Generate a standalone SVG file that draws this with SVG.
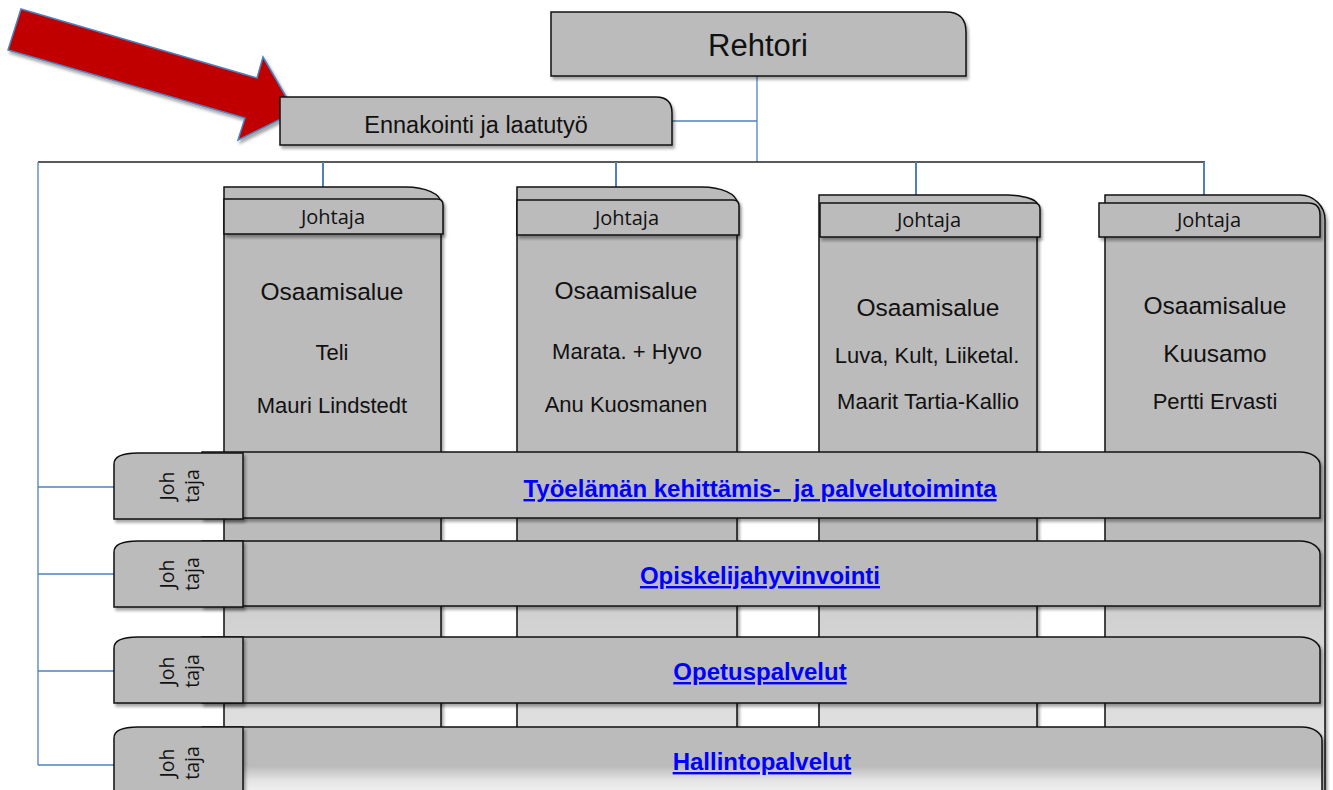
<svg xmlns="http://www.w3.org/2000/svg" width="1333" height="790" viewBox="0 0 1333 790">
<defs>
<filter id="sh" x="-5%" y="-5%" width="115%" height="130%">
<feDropShadow dx="2" dy="3" stdDeviation="1.5" flood-color="#000" flood-opacity="0.35"/>
</filter>
<linearGradient id="colg" gradientUnits="userSpaceOnUse" x1="0" y1="187" x2="0" y2="790">
<stop offset="0" stop-color="#bbbbbb"/>
<stop offset="0.58" stop-color="#bbbbbb"/>
<stop offset="0.7" stop-color="#d0d0d0"/>
<stop offset="0.85" stop-color="#dcdcdc"/>
<stop offset="1" stop-color="#e6e6e6"/>
</linearGradient>
<linearGradient id="bar4g" gradientUnits="userSpaceOnUse" x1="0" y1="727" x2="0" y2="790">
<stop offset="0" stop-color="#bbbbbb"/>
<stop offset="0.62" stop-color="#bbbbbb"/>
<stop offset="0.85" stop-color="#e4e4e4"/>
<stop offset="1" stop-color="#eeeeee"/>
</linearGradient>
</defs>
<style>
.box{fill:#bbbbbb;stroke:#111;stroke-width:1.5;filter:url(#sh)}
.col{fill:url(#colg);stroke:#111;stroke-width:1.5;filter:url(#sh)}
.conn{fill:none;stroke:#4f81bd;stroke-width:1.3}
.connT{fill:none;stroke:#4f81bd;stroke-width:2}
.ar{font-family:"Liberation Sans",Arial,sans-serif;fill:#111;text-anchor:middle}
.cal{font-family:"Open Sans","Noto Sans",sans-serif;fill:#111;text-anchor:middle}
.jt{font-family:"Open Sans","Noto Sans",sans-serif;fill:#111;text-anchor:middle;font-size:19.5px}
.lnk{font-family:"Liberation Sans",Arial,sans-serif;font-weight:bold;fill:#0000ff;text-anchor:middle;text-decoration:underline;font-size:24px}
</style>

<g id="connectors">
<path class="conn" d="M757,76 V162"/>
<path class="conn" d="M672,121 H757"/>
<path d="M38,162 H1205" fill="none" stroke="#222" stroke-width="1.3"/>
<path class="connT" d="M323,162 V187 M616,162 V187 M916,162 V195 M1204,162 V195"/>
<path class="conn" d="M38,162 V765 M38,487 H114 M38,574 H114 M38,671 H114 M38,765 H114"/>
</g>

<g id="arrow">
<polygon points="21,9 257,78 263,57 295,112 238,140 245,118 8,50" fill="#c00000" stroke="#4f81bd" stroke-width="1.5" filter="url(#sh)"/>
</g>

<g id="rehtori">
<path class="box" d="M551,76 V12 H946 Q966,12 966,32 V76 Z"/>
<text class="ar" x="758" y="56" font-size="31">Rehtori</text>
</g>

<g id="ennakointi">
<path class="box" d="M280,145 V97 H656 Q672,97 672,113 V145 Z"/>
<text class="ar" x="476" y="133" font-size="23.5">Ennakointi ja laatutyö</text>
</g>

<g id="col1">
<path class="col" d="M224,800 V187 H406 A35,16 0 0 1 441,203 V800"/>
<path class="box" d="M224,234 V199 H437 Q443,199 443,205 V234 Z"/>
<text class="cal" x="333" y="224" font-size="20">Johtaja</text>
<text class="ar" x="332" y="300" font-size="24.5">Osaamisalue</text>
<text class="ar" x="332" y="360" font-size="22">Teli</text>
<text class="ar" x="332" y="413" font-size="22">Mauri Lindstedt</text>
</g>

<g id="col2">
<path class="col" d="M517,800 V187 H702 A35,16 0 0 1 737,203 V800"/>
<path class="box" d="M517,235 V200 H733 Q739,200 739,206 V235 Z"/>
<text class="cal" x="627" y="225" font-size="20">Johtaja</text>
<text class="ar" x="626" y="299" font-size="24.5">Osaamisalue</text>
<text class="ar" x="627" y="359" font-size="22">Marata. + Hyvo</text>
<text class="ar" x="626" y="412" font-size="22">Anu Kuosmanen</text>
</g>

<g id="col3">
<path class="col" d="M819,800 V195 H1008 A32,10 0 0 1 1037,203 V800"/>
<path class="box" d="M820,237 V203 H1034 Q1040,203 1040,209 V237 Z"/>
<text class="cal" x="929" y="227" font-size="20">Johtaja</text>
<text class="ar" x="928" y="316" font-size="24.5">Osaamisalue</text>
<text class="ar" x="927" y="363" font-size="22">Luva, Kult, Liiketal.</text>
<text class="ar" x="928" y="409" font-size="22">Maarit Tartia-Kallio</text>
</g>

<g id="col4">
<path class="col" d="M1105,800 V195 H1300 A25,25 0 0 1 1325,220 V800"/>
<path class="box" d="M1099,237 V203 H1308 Q1320,203 1320,215 V237 Z"/>
<text class="cal" x="1209" y="227" font-size="20">Johtaja</text>
<text class="ar" x="1215" y="314" font-size="24.5">Osaamisalue</text>
<text class="ar" x="1215" y="362" font-size="24.5">Kuusamo</text>
<text class="ar" x="1215" y="409" font-size="22">Pertti Ervasti</text>
</g>

<g id="bar1">
<path class="box" d="M202,518 V452 H1300 A20,13 0 0 1 1320,465 V518 Z"/>
<path class="box" d="M114,519 V464 Q114,453 138,453 H243 V519 Z"/>
<text class="jt" transform="translate(174,486) rotate(-90)">Joh</text>
<text class="jt" transform="translate(199,486) rotate(-90)">taja</text>
<text class="lnk" x="760" y="497" xml:space="preserve" font-size="23.5">Työelämän kehittämis-  ja palvelutoiminta</text>
</g>

<g id="bar2">
<path class="box" d="M202,606 V541 H1300 A20,13 0 0 1 1320,554 V606 Z"/>
<path class="box" d="M114,607 V552 Q114,541 138,541 H243 V607 Z"/>
<text class="jt" transform="translate(174,574) rotate(-90)">Joh</text>
<text class="jt" transform="translate(199,574) rotate(-90)">taja</text>
<text class="lnk" x="760" y="584">Opiskelijahyvinvointi</text>
</g>

<g id="bar3">
<path class="box" d="M202,703 V637 H1300 A20,13 0 0 1 1320,650 V703 Z"/>
<path class="box" d="M114,703 V648 Q114,637 138,637 H243 V703 Z"/>
<text class="jt" transform="translate(174,671) rotate(-90)">Joh</text>
<text class="jt" transform="translate(199,671) rotate(-90)">taja</text>
<text class="lnk" x="760" y="680">Opetuspalvelut</text>
</g>

<g id="bar4">
<path class="box" style="fill:url(#bar4g)" d="M202,800 V727 H1302 A20,13 0 0 1 1322,740 V800 Z"/>
<path class="box" d="M114,800 V738 Q114,727 138,727 H243 V800 Z"/>
<text class="jt" transform="translate(174,763) rotate(-90)">Joh</text>
<text class="jt" transform="translate(199,763) rotate(-90)">taja</text>
<text class="lnk" x="762" y="770">Hallintopalvelut</text>
</g>
</svg>
